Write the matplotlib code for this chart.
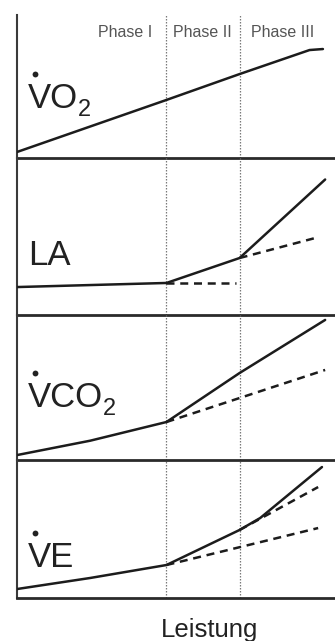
import matplotlib
matplotlib.use("Agg")
import matplotlib.pyplot as plt
from matplotlib.transforms import offset_copy

plt.rcParams["font.family"] = ["Liberation Sans", "DejaVu Sans"]

# Work load (Leistung) in % of the drawn range; phase thresholds
phase_bounds = [47.0, 70.0]
phase_labels = ["Phase I", "Phase II", "Phase III"]
phase_label_x = [42.5, 58.2, 83.6]

# Each panel: solid curve and dashed extrapolations (x, y) on a 0..100 scale
vo2_x = [0.0, 47.0, 70.0, 92.0, 96.2]
vo2_y = [4.2, 40.6, 58.7, 75.5, 76.2]

la_x = [0.0, 47.0, 70.0, 96.9]
la_y = [17.8, 20.4, 36.3, 86.3]
la_dash = [([47.0, 69.0], [20.4, 20.4]), ([70.0, 93.7], [36.3, 49.0])]

vco2_x = [0.0, 23.0, 47.0, 70.0, 96.9]
vco2_y = [3.4, 13.3, 26.2, 60.0, 96.6]
vco2_dash = [([47.0, 96.9], [26.2, 62.1])]

ve_x = [0.0, 23.0, 47.0, 70.0, 76.5, 95.9]
ve_y = [6.5, 14.5, 23.9, 49.3, 58.0, 94.9]
ve_dash = [([47.0, 94.7], [23.9, 50.7]), ([70.0, 94.7], [49.3, 80.4])]

# panel names (main text, subscript); flow quantities get a dot over the V
panel_labels = [("VO", "2"), ("LA", ""), ("VCO", "2"), ("VE", "")]
panel_dotted = [True, False, True, True]
label_baseline = [35.0, 31.8, 36.6, 22.5]
x_label = "Leistung"

W, H = 335, 641
fig = plt.figure(figsize=(W / 100, H / 100), dpi=100)
fig.patch.set_facecolor("white")

# panel edges in pixels from the top of the figure
edges = [15, 158, 315, 460, 598]
left_px = 17

ink = "#1c1c1c"
text_ink = "#222222"
lw = 1.8
dash = (0, (3.2, 2.3))

series = [
    (vo2_x, vo2_y, []),
    (la_x, la_y, la_dash),
    (vco2_x, vco2_y, vco2_dash),
    (ve_x, ve_y, ve_dash),
]

axes = []
for i, (sx, sy, dashed) in enumerate(series):
    top, bot = edges[i], edges[i + 1]
    ax = fig.add_axes([left_px / W, 1 - bot / H, 1 - left_px / W, (bot - top) / H])
    ax.set_xlim(0, 100)
    ax.set_ylim(0, 100)
    ax.set_facecolor("none")
    for s in ["top", "right"]:
        ax.spines[s].set_visible(False)
    ax.spines["left"].set_color("#3a3a3a")
    ax.spines["left"].set_linewidth(1.5)
    ax.spines["bottom"].set_color("#2a2a2a")
    ax.spines["bottom"].set_linewidth(2.0)
    ax.set_xticks([])
    ax.set_yticks([])
    for xb in phase_bounds:
        ax.axvline(xb, color="#7a7a7a", lw=0.9, ls=(0, (1.2, 1.2)), zorder=1)
    ax.plot(sx, sy, color=ink, lw=lw, solid_capstyle="round", zorder=3)
    for dx, dy in dashed:
        ax.plot(dx, dy, color=ink, lw=lw, ls=dash, zorder=3)

    main, sub = panel_labels[i]
    t = ax.text(3.5, label_baseline[i], main, fontsize=25,
                color=text_ink, va="baseline", ha="left")
    if sub:
        ax.annotate(sub, xy=(1.0, 0.0), xycoords=t, xytext=(-0.5, -0.5),
                    textcoords="offset points", fontsize=17, color=text_ink,
                    va="baseline", ha="left")
    if panel_dotted[i]:
        # dot accent over the V, placed relative to the label anchor
        tr = offset_copy(ax.transData, fig=fig, x=5.2, y=24.5, units="points")
        ax.plot([3.5], [label_baseline[i]], transform=tr, marker="o", ms=4.2,
                color=text_ink, mec="none", clip_on=False)
    axes.append(ax)

ax0 = axes[0]
ax0.text(phase_label_x[0], 88, phase_labels[0], ha="right", va="center",
         fontsize=11.5, color="#555555")
ax0.text(phase_label_x[1], 88, phase_labels[1], ha="center", va="center",
         fontsize=11.5, color="#555555")
ax0.text(phase_label_x[2], 88, phase_labels[2], ha="center", va="center",
         fontsize=11.5, color="#555555")

fig.text(210 / W, 1 - 637 / H, x_label, ha="center", va="baseline",
         fontsize=18.5, color=text_ink)

fig.savefig("out.png", dpi=100)
